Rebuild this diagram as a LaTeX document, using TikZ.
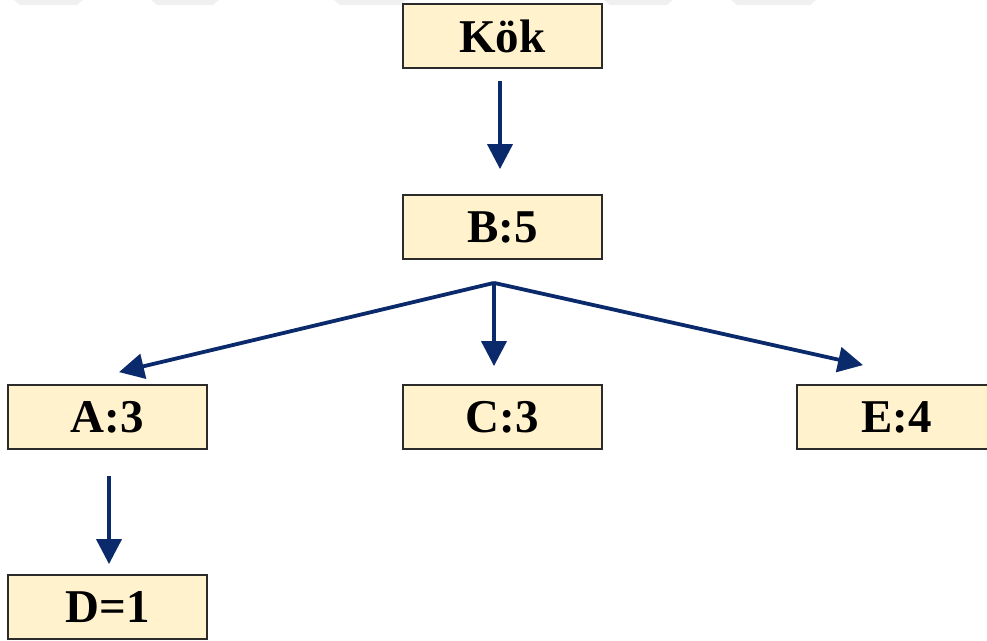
\documentclass[tikz,border=0pt]{standalone}
\usepackage{fontspec}
\setmainfont{Liberation Serif}
\usetikzlibrary{arrows.meta,calc}

\definecolor{boxfill}{HTML}{FFF2CC}
\definecolor{boxline}{HTML}{2B2B2B}
\definecolor{arrowblue}{HTML}{0B2A6B}
\definecolor{bandgray}{HTML}{F0F0F0}

\tikzset{
  treebox/.style={draw=boxline, fill=boxfill, line width=1.8pt,
    rectangle, minimum width=199pt, minimum height=64pt, inner sep=0pt,
    font=\fontsize{47}{50}\selectfont\bfseries},
  link/.style={draw=arrowblue, line width=3.8pt,
    -{Triangle[length=25pt,width=25pt]}},
  band/.style={fill=bandgray, draw=none}
}

\begin{document}
\begin{tikzpicture}[x=1pt,y=-1pt]
  \useasboundingbox (0,0) rectangle (987,640);

  % faint band along the top edge
  \foreach \a/\b in {20/77,157/213,340/400,610/667,737/810}{
    \fill[band] (\a-6,0) -- (\b+6,0) -- (\b,5) -- (\a,5) -- cycle;
  }

  % tree nodes
  \node[treebox] (kok) at (502.5,36)  {Kök};
  \node[treebox] (b)   at (502.5,227) {B:5};
  \node[treebox] (a)   at (107.5,417) {A:3};
  \node[treebox] (c)   at (502.5,417) {C:3};
  \node[treebox] (e)   at (896.5,417) {E:4};
  \node[treebox] (d)   at (107.5,607) {D=1};

  % branching point under B
  \coordinate (fork) at ($(b.south)+(-8.5,23)$);

  % connectors
  \draw[link] ($(kok.south)+(-2.5,12)$) -- ($(b.north)+(-2.5,-25)$);
  \draw[link] (fork) -- ($(a.north)+(11.5,-12)$);
  \draw[link] (fork) -- ($(c.north)+(-8.5,-18)$);
  \draw[link] (fork) -- ($(e.north)+(-33.5,-19)$);
  \draw[link] ($(a.south)+(1.5,26)$) -- ($(d.north)+(1.5,-10)$);
\end{tikzpicture}
\end{document}
